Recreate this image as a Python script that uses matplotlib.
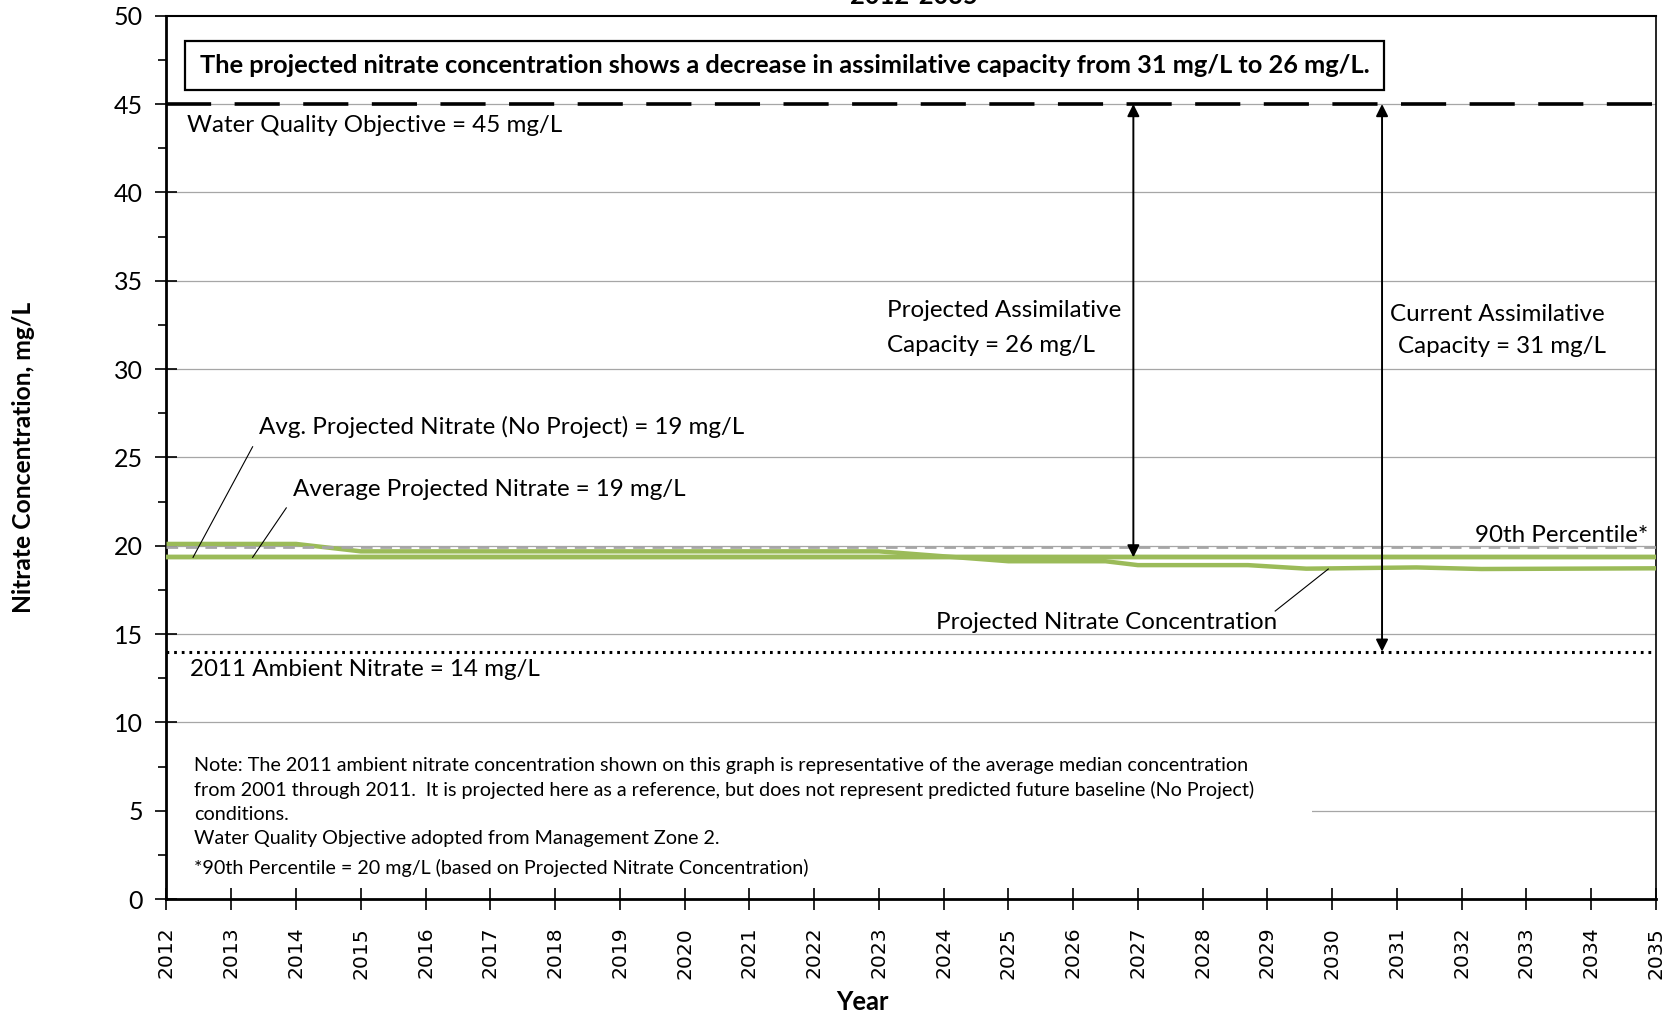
import numpy as np
import matplotlib
matplotlib.use('Agg')
import matplotlib.pyplot as plt
from matplotlib.patches import Rectangle

plt.rcParams['font.family'] = ['Lato', 'DejaVu Sans']

# data
years = list(range(2012, 2036))
proj_years = [2012, 2014, 2015, 2023, 2025, 2026.5, 2027, 2028.7, 2029.6, 2031.3, 2032.3, 2035]
proj_nitrate = [20.1, 20.1, 19.68, 19.68, 19.12, 19.12, 18.9, 18.9, 18.7, 18.77, 18.68, 18.72]
avg_proj = 19.34
avg_no_project = 19.34
pct90 = 19.9
wqo = 45
ambient_2011 = 14
proj_capacity_year = 2026.93
curr_capacity_year = 2030.77

note_lines = [
    "Note: The 2011 ambient nitrate concentration shown on this graph is representative of the average median concentration",
    "from 2001 through 2011.  It is projected here as a reference, but does not represent predicted future baseline (No Project)",
    "conditions.",
    "Water Quality Objective adopted from Management Zone 2.",
    "*90th Percentile = 20 mg/L (based on Projected Nitrate Concentration)",
]
note_y = [7.58, 6.2, 4.8, 3.4, 1.75]

green = '#9bbb59'

fig = plt.figure(figsize=(16.8, 10.14), dpi=100)
ax = fig.add_axes([0.0991, 0.1134, 0.8866, 0.8711])
ax.set_xlim(2012, 2035)
ax.set_ylim(0, 50)

for v in range(5, 50, 5):
    ax.axhline(v, color='#a6a6a6', lw=0.9, zorder=1)

# white area behind the note
ax.add_patch(Rectangle((2012, 0.9), 17.69, 7.6, facecolor='white', edgecolor='none', zorder=2))

ax.plot([2012, 2035], [avg_no_project, avg_no_project], color=green, lw=3.2, zorder=3)
ax.plot([2012, 2035], [avg_proj, avg_proj], color=green, lw=3.2, zorder=3)
ax.plot(proj_years, proj_nitrate, color=green, lw=3.2, zorder=3, solid_capstyle='butt')
ax.plot([2012, 2035], [pct90, pct90], color='#a6a6a6', lw=2.0, dashes=(4.2, 2.8), zorder=4)
ax.plot([2012, 2035], [wqo, wqo], color='black', lw=2.6, dashes=(12.5, 6.5), zorder=4)
ax.plot([2012, 2035], [ambient_2011, ambient_2011], color='black', lw=2.2, dashes=(0.9, 1.6), zorder=4)

arrow = dict(arrowstyle='<|-|>', color='black', lw=1.4, mutation_scale=18, shrinkA=0, shrinkB=0)
ax.annotate('', xy=(proj_capacity_year, avg_proj), xytext=(proj_capacity_year, wqo), arrowprops=arrow, zorder=5)
ax.annotate('', xy=(curr_capacity_year, ambient_2011), xytext=(curr_capacity_year, wqo), arrowprops=arrow, zorder=5)

fs = 17.4
ax.text(2012.32, 43.8, "Water Quality Objective = 45 mg/L", fontsize=fs, va='center', zorder=6)
ax.text(2023.13, 33.3, "Projected Assimilative", fontsize=fs, va='center', zorder=6)
ax.text(2023.13, 31.35, "Capacity = 26 mg/L", fontsize=fs, va='center', zorder=6)
ax.text(2032.55, 33.1, "Current Assimilative", fontsize=fs, va='center', ha='center', zorder=6)
ax.text(2032.62, 31.3, "Capacity = 31 mg/L", fontsize=fs, va='center', ha='center', zorder=6)
ax.text(2034.88, 20.55, "90th Percentile*", fontsize=fs, va='center', ha='right', zorder=6)
ax.text(2013.43, 26.7, "Avg. Projected Nitrate (No Project) = 19 mg/L", fontsize=fs, va='center', zorder=6)
ax.text(2013.95, 23.16, "Average Projected Nitrate = 19 mg/L", fontsize=fs, va='center', zorder=6)
ax.text(2029.15, 15.65, "Projected Nitrate Concentration", fontsize=fs, va='center', ha='right', zorder=6)
ax.text(2012.37, 12.98, "2011 Ambient Nitrate = 14 mg/L", fontsize=fs, va='center', zorder=6)

# leader lines
ax.plot([2013.33, 2012.41], [25.6, avg_no_project], color='black', lw=0.8, zorder=5)
ax.plot([2013.85, 2013.33], [22.14, avg_proj], color='black', lw=0.8, zorder=5)
ax.plot([2029.12, 2029.94], [16.3, 18.68], color='black', lw=0.8, zorder=5)

# boxed statement
ax.add_patch(Rectangle((2012.29, 45.78), 18.51, 2.78, facecolor='white', edgecolor='black', lw=1.6, zorder=6))
ax.text(2012.29 + 18.51 / 2, 47.17,
        "The projected nitrate concentration shows a decrease in assimilative capacity from 31 mg/L to 26 mg/L.",
        fontsize=18.3, fontweight='bold', ha='center', va='center', zorder=7)

for line, y in zip(note_lines, note_y):
    ax.text(2012.42, y, line, fontsize=14.2, va='center', zorder=6)

ax.set_xticks(years)
ax.set_xticklabels([str(y) for y in years], rotation=90, family='DejaVu Sans', fontsize=14.7)
ax.set_yticks(range(0, 51, 5))
ax.set_yticks(np.arange(2.5, 50, 5), minor=True)
ax.tick_params(axis='y', which='major', direction='inout', length=16, width=1.2, labelsize=18, pad=9)
ax.tick_params(axis='y', which='minor', direction='out', length=6, width=1.2)
ax.tick_params(axis='x', which='major', direction='inout', length=16, width=1.2, pad=12)

for s in ['left', 'bottom']:
    ax.spines[s].set_linewidth(2)
ax.spines['top'].set_linewidth(1.5)
ax.spines['right'].set_linewidth(1.2)

fig.text(0.0137, 0.549, "Nitrate Concentration, mg/L", rotation=90, fontsize=17.7, fontweight='bold',
         ha='center', va='center')
fig.text(862 / 1680, 1 - 1002 / 1014, "Year", fontsize=18.4, fontweight='bold', ha='center', va='center')
fig.text(914 / 1680, 1 - 4.5 / 1014, "2012-2035", fontsize=18.4, fontweight='bold', ha='center', va='baseline')

fig.savefig('out.png', dpi=100)
